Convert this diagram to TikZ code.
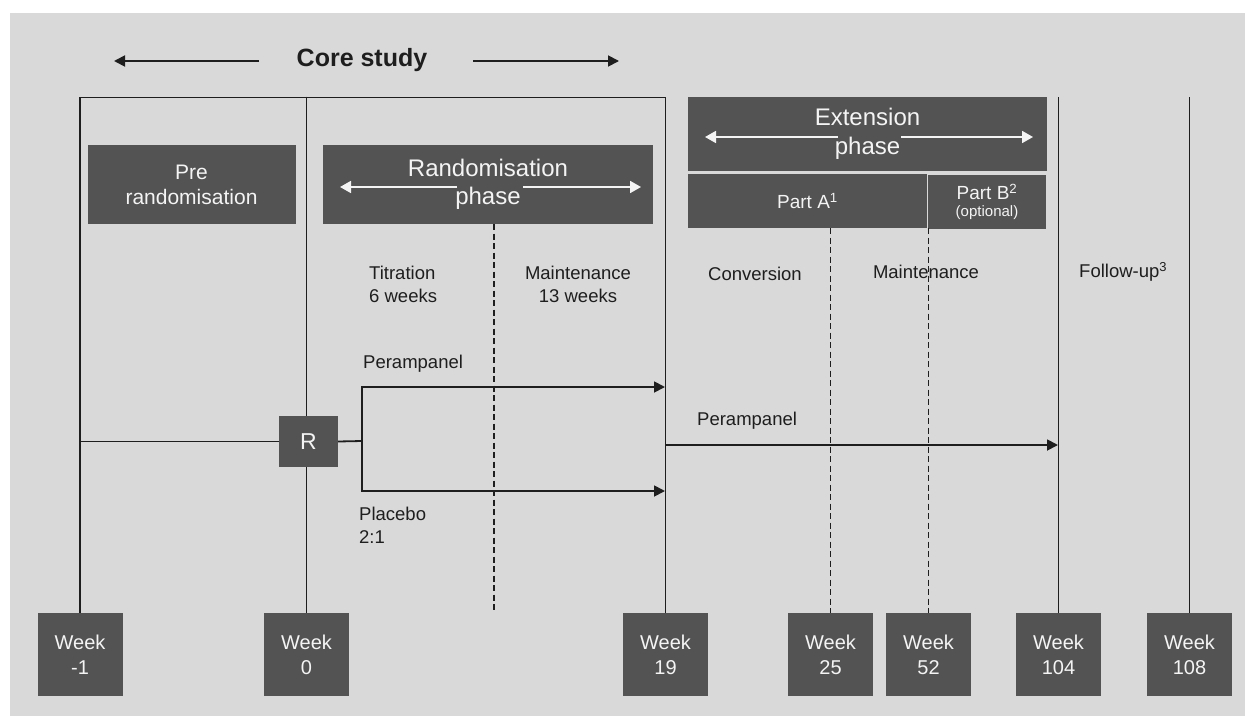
\documentclass[tikz,border=0pt]{standalone}
\usepackage{fontspec}
\setmainfont{Liberation Sans}
\usetikzlibrary{arrows.meta}
\definecolor{bggray}{HTML}{D9D9D9}
\definecolor{boxgray}{HTML}{535353}
\definecolor{linec}{HTML}{1E1E1E}
\definecolor{wtext}{HTML}{F4F4F4}
\tikzset{
  dbox/.style={fill=boxgray, draw=none, text=wtext, align=center, inner sep=0pt},
  wk/.style={dbox, minimum width=85pt, minimum height=83pt, font=\fontsize{20}{25}\selectfont},
  lbl/.style={text=linec, inner sep=0pt, font=\fontsize{18.5}{23}\selectfont},
  ln/.style={line width=1.8pt, draw=linec},
  dsh/.style={line width=1.7pt, draw=linec, dash pattern=on 6pt off 3.5pt},
  arr/.style={ln, -{Triangle[length=11pt,width=11pt]}},
  warr/.style={line width=1.8pt, draw=wtext, -{Triangle[length=11pt,width=12pt]}},
  carr/.style={line width=1.8pt, draw=linec, -{Triangle[length=11pt,width=11pt]}},
}
\begin{document}
\begin{tikzpicture}[x=1pt,y=-1pt]
\useasboundingbox (0,0) rectangle (1245,717);
\fill[white] (0,0) rectangle (1245,717);
\fill[bggray] (10,13) rectangle (1245,716);

% Core study header
\node[inner sep=0pt, text=linec, font=\fontsize{25}{30}\selectfont\bfseries] (core) at (362,60) {Core study};
\coordinate (cl1) at (259,61); \coordinate (cl2) at (114,61);
\coordinate (cr1) at (473,61); \coordinate (cr2) at (619,61);
\draw[carr] (cl1) -- (cl2);
\draw[carr] (cr1) -- (cr2);

% Week boxes
\node[wk] (wm1) at (80,654.5) {Week\\-1};
\node[wk] (w0) at (306.5,654.5) {Week\\0};
\node[wk] (w19) at (665.5,654.5) {Week\\19};
\node[wk] (w25) at (830.5,654.5) {Week\\25};
\node[wk] (w52) at (928.5,654.5) {Week\\52};
\node[wk] (w104) at (1058.5,654.5) {Week\\104};
\node[wk] (w108) at (1189.5,654.5) {Week\\108};

% R box
\node[dbox, minimum width=59pt, minimum height=51pt, font=\fontsize{23}{27}\selectfont] (R) at (308.5,441.5) {R};

% Core study frame
\coordinate (tl) at (80,97.5);
\coordinate (tr) at (665.5,97.5);
\coordinate (tm) at (306.5,96.5);
\draw[ln] (wm1.north) -- (tl) -- (tr) -- (w19.north);
\draw[ln] (tm) -- (R.north -| tm);
\draw[ln] (R.south -| w0) -- (w0.north);

% extension vertical lines
\coordinate (t104) at (1058.5,97);
\coordinate (t108) at (1189.5,97);
\draw[ln] (t104) -- (w104.north);
\draw[ln] (t108) -- (w108.north);

% Phase boxes
\node[dbox, minimum width=208pt, minimum height=79pt, font=\fontsize{21}{25}\selectfont] (pre) at (191.5,184.5) {Pre\\randomisation};
\node[dbox, minimum width=330pt, minimum height=79pt, font=\fontsize{24}{28}\selectfont] (rand) at (488,184.5) {Randomisation\\phase};
\coordinate (ra1) at (457,187); \coordinate (ra2) at (340,187);
\coordinate (rb1) at (523,187); \coordinate (rb2) at (641,187);
\draw[warr] (ra1) -- (ra2);
\draw[warr] (rb1) -- (rb2);

\node[dbox, minimum width=359pt, minimum height=74pt, font=\fontsize{24}{29}\selectfont] (ext) at (867.5,134) {Extension\\phase};
\coordinate (ea1) at (838,137); \coordinate (ea2) at (705,137);
\coordinate (eb1) at (901,137); \coordinate (eb2) at (1033,137);
\draw[warr] (ea1) -- (ea2);
\draw[warr] (eb1) -- (eb2);

\node[dbox, minimum width=239pt, minimum height=54pt, font=\fontsize{19}{23}\selectfont] (partA) at (807.5,201) {Part A\textsuperscript{1}};
\node[dbox, minimum width=118pt, minimum height=54pt, font=\fontsize{19}{17}\selectfont] (partB) at (987,202) {Part B\textsuperscript{2}\\{\fontsize{15}{17}\selectfont(optional)}};

% Dashed lines
\coordinate (d1t) at (494,224); \coordinate (d1b) at (494,612);
\draw[dsh] (d1t) -- (d1b);
\draw[dsh] (partA.south -| w25) -- (w25.north);
\draw[dsh] (partA.south -| w52) -- (w52.north);

% Labels
\node[lbl, align=left, anchor=west] (titr) at (369,284) {Titration\\6 weeks};
\node[lbl, align=center] (mt1) at (578,284) {Maintenance\\13 weeks};
\node[lbl] (conv) at (755,274) {Conversion};
\node[lbl] (mt2) at (926,272) {Maintenance};
\node[lbl, anchor=west] (fol) at (1079,272) {Follow-up\textsuperscript{3}};
\node[lbl, anchor=west] (per1) at (363,364) {Perampanel};
\node[lbl, anchor=west] (per2) at (697,421) {Perampanel};
\node[lbl, align=left, anchor=west] (plac) at (359,525) {Placebo\\2:1};

% Randomisation arms
\coordinate (br) at (362,441);
\coordinate (pa) at (665,387);
\coordinate (pb) at (665,491);
\draw[ln] (wm1.north |- R) -- (R.west);
\draw[ln] (R.east) -- (br);
\draw[arr] (br) |- (pa);
\draw[arr] (br) |- (pb);

% Extension perampanel
\coordinate (ea) at (665.5,445);
\coordinate (eb) at (1058,445);
\draw[arr] (ea) -- (eb);
\end{tikzpicture}
\end{document}
